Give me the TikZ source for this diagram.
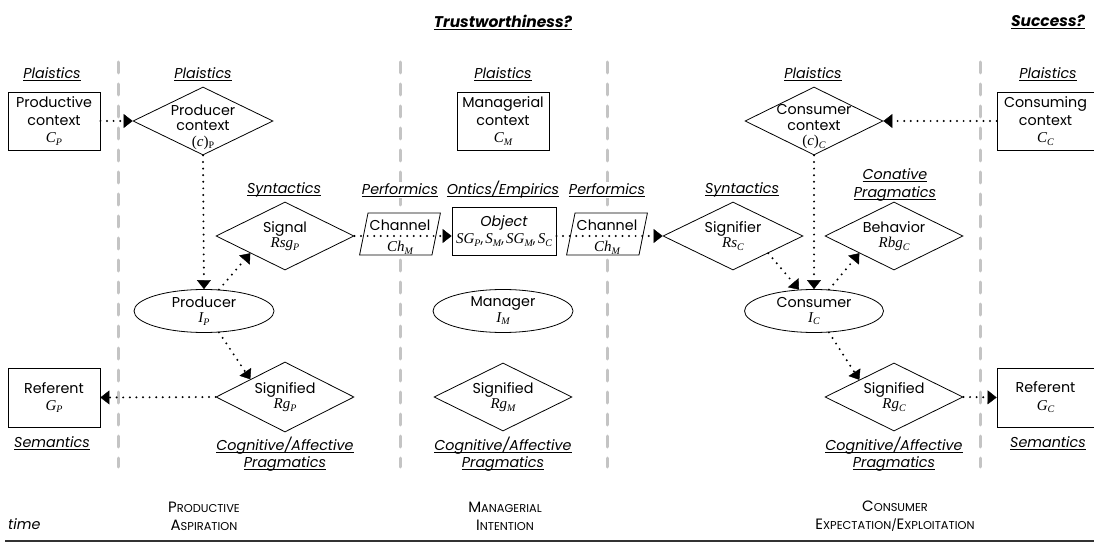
\documentclass[tikz,border=0pt]{standalone}
\usepackage{fontspec}
\setmainfont{Poppins}
\newfontfamily\serifv{Liberation Serif}
\usetikzlibrary{shapes.geometric,arrows.meta}

\definecolor{guide}{RGB}{196,196,196}
\definecolor{axisgray}{RGB}{50,50,50}

% text sizes and helpers
\newcommand\mainsz{\fontsize{14.3}{17.5}\selectfont}
\newcommand\tightsz{\fontsize{14.3}{15.5}\selectfont}
\newcommand\ulx[1]{\setbox0\hbox{#1}\rlap{\rule[-2.2pt]{\wd0}{0.7pt}}\box0}
\newcommand\vv[2]{{\serifv\fontsize{15}{17}\selectfont\itshape #1\raisebox{-0.35ex}{\fontsize{10}{10}\selectfont #2}}}
\newcommand\ctxsym[1]{{\serifv\fontsize{15}{17}\selectfont(\textit{c})\raisebox{-0.35ex}{\fontsize{10}{10}\selectfont #1}}}
\newcommand\fsc[2]{{\fontsize{15}{18}\selectfont #1}{\fontsize{11.4}{18}\selectfont #2}}

\begin{document}
\begin{tikzpicture}[x=1pt,y=-1pt,
  edged/.style={draw=black,line width=0.8pt,fill=white},
  ctxbox/.style={edged,rectangle,minimum width=92,minimum height=58,inner sep=0,align=center,font=\mainsz},
  objbox/.style={edged,rectangle,minimum width=104,minimum height=48,inner sep=0,align=center,font=\mainsz},
  diam/.style={edged,diamond,aspect=2,minimum width=138,minimum height=68,inner sep=0,align=center,font=\tightsz},
  agent/.style={edged,ellipse,minimum width=140,minimum height=43,inner sep=0,align=center,font=\tightsz},
  channel/.style={edged,trapezium,trapezium left angle=76,trapezium right angle=104,trapezium stretches=true,
    minimum width=81,minimum height=42,inner sep=0,font=\mainsz},
  role/.style={font=\mainsz\itshape,inner sep=1pt,fill=white,align=center},
  headline/.style={font=\fontsize{15.5}{18}\selectfont\bfseries\itshape,inner sep=0},
  phase/.style={font=\fontsize{11.4}{18}\selectfont,align=center,inner sep=0},
  txt/.style={font=\tightsz,align=center,inner sep=0},
  flow/.style={line width=2.2pt,dash pattern=on 0pt off 6.6pt,line cap=round,
    -{Triangle[length=9pt,width=14pt,line width=0.4pt]}},
  guideline/.style={draw=guide,line width=3pt,line cap=round,dash pattern=on 11pt off 11pt},
]
\useasboundingbox (0,0) rectangle (1094,545);

% phase separators
\foreach \x/\n in {118/a,400/b,607/c,980/d}{
  \coordinate (g\n top) at (\x,62);
  \coordinate (g\n bot) at (\x,467);
  \draw[guideline] (g\n top) -- (g\n bot);
}

% headlines
\node[headline] (trust) at (503,22) {\ulx{Trustworthiness?}};
\node[headline] (succ) at (1048,22) {\ulx{Success?}};

% contexts
\node[role] (pl1) at (52,74) {\ulx{Plaistics}};
\node[role] (pl2) at (203,74) {\ulx{Plaistics}};
\node[role] (pl3) at (503,74) {\ulx{Plaistics}};
\node[role] (pl4) at (813,74) {\ulx{Plaistics}};
\node[role] (pl5) at (1048,74) {\ulx{Plaistics}};

\node[ctxbox] (pc) at (54,121) {Productive\\context\\\vv{C}{P}};
\node[diam,minimum width=140] (pctx) at (203,121) {};
\node[txt] (pctxT) at (203,127) {Producer\\context\\\ctxsym{P}};
\node[ctxbox] (mc) at (503,121) {Managerial\\context\\\vv{C}{M}};
\node[diam] (cctx) at (814,121) {};
\node[txt] (cctxT) at (814,127) {Consumer\\context\\\ctxsym{\textit{C}}};
\node[ctxbox,minimum width=97] (cc) at (1045.5,121) {Consuming\\context\\\vv{C}{C}};

% signal chain
\node[role] (syn1) at (284,190) {\ulx{Syntactics}};
\node[role] (perf1) at (400,190) {\ulx{Performics}};
\node[role] (ont) at (503,190) {\ulx{Ontics/Empirics}};
\node[role] (perf2) at (607,190) {\ulx{Performics}};
\node[role] (syn2) at (742,190) {\ulx{Syntactics}};
\node[role] (conat) at (895,185) {\ulx{Conative}\\\ulx{Pragmatics}};

\node[diam] (signal) at (285,236) {Signal\\\vv{Rsg}{P}};
\node[channel] (ch1) at (400,234) {\phantom{Ch}};
\node[txt] (ch1T) at (400,237) {Channel\\[6pt]\vv{Ch}{M}};
\node[objbox] (obj) at (504,231) {\textit{Object}\\{\fontsize{13.5}{15}\selectfont\vv{SG}{P},\,\vv{S}{M},\,\vv{SG}{M},\,\vv{S}{C}}};
\node[channel] (ch2) at (607,234) {\phantom{Ch}};
\node[txt] (ch2T) at (607,237) {Channel\\[6pt]\vv{Ch}{M}};
\node[diam,minimum width=140] (sigr) at (733,236) {Signifier\\\vv{Rs}{C}};
\node[diam] (behav) at (894,236) {Behavior\\\vv{Rbg}{C}};

% interpreters
\node[agent] (prod) at (204,311) {Producer\\\vv{I}{P}};
\node[agent] (mgr) at (503,311) {Manager\\\vv{I}{M}};
\node[agent,minimum width=139] (cons) at (814,311) {Consumer\\\vv{I}{C}};

% meanings and referents
\node[ctxbox,minimum height=59] (refp) at (54,397.5) {Referent\\\vv{G}{P}};
\node[diam,minimum height=70] (sdp) at (285,397) {Signified\\\vv{Rg}{P}};
\node[diam] (sdm) at (503,397) {Signified\\\vv{Rg}{M}};
\node[diam] (sdc) at (894,397) {Signified\\\vv{Rg}{C}};
\node[ctxbox,minimum width=97,minimum height=59] (refc) at (1045.5,397.5) {Referent\\\vv{G}{C}};

\node[role] (sem1) at (52,443) {\ulx{Semantics}};
\node[role] (sem2) at (1048,443) {\ulx{Semantics}};
\node[role] (cap1) at (285,454) {\ulx{Cognitive/Affective}\\\ulx{Pragmatics}};
\node[role] (cap2) at (503,454) {\ulx{Cognitive/Affective}\\\ulx{Pragmatics}};
\node[role] (cap3) at (894,454) {\ulx{Cognitive/Affective}\\\ulx{Pragmatics}};

% flows
\draw[flow] (pc.east) -- (pctx.west);
\draw[flow] (pctx.south) -- (prod.north);
\draw[flow] (prod.55) -- (signal.south west);
\draw[flow] (prod.-55) -- (sdp.north west);
\draw[flow] (sdp.west) -- (refp.east);
\draw[flow] (signal.east) -- (signal.east -| obj.west);
\draw[flow] (sigr.west -| obj.east) -- (sigr.west);
\draw[flow] (sigr.south east) -- (cons.125);
\draw[flow] (cctx.south) -- (cons.north);
\draw[flow] (cons.55) -- (behav.south west);
\draw[flow] (cons.-55) -- (sdc.north west);
\draw[flow] (sdc.east) -- (refc.west);
\draw[flow] (cc.west) -- (cctx.east);

% time axis and phases
\node[phase] (ph1) at (204,516) {\fsc{P}{RODUCTIVE}\\\fsc{A}{SPIRATION}};
\node[phase] (ph2) at (505,516) {\fsc{M}{ANAGERIAL}\\\fsc{I}{NTENTION}};
\node[phase] (ph3) at (895,516) {\fsc{C}{ONSUMER}\\\fsc{E}{XPECTATION}/\fsc{E}{XPLOITATION}};
\node[font=\mainsz\itshape,inner sep=0,anchor=base west] (time) at (8,529) {time};
\coordinate (t0) at (5,541);
\coordinate (t1) at (1094,541);
\draw[axisgray,line width=1.2pt] (t0) -- (t1);
\end{tikzpicture}
\end{document}
